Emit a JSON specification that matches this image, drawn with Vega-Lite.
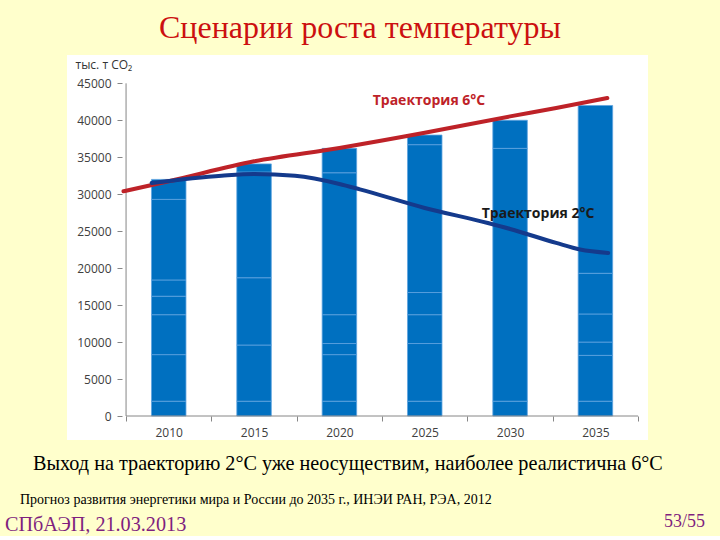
{
  "$schema": "https://vega.github.io/schema/vega-lite/v6.json",
  "background": "#FFFFCC",
  "padding": {"left": 0, "right": 0, "top": 12, "bottom": 0},
  "spacing": 0,
  "title": {"text": "Сценарии роста температуры", "font": "Liberation Serif", "fontSize": 32, "fontWeight": "normal", "color": "#CC1010", "anchor": "middle", "offset": 10},
  "config": {
    "view": {"stroke": null},
    "axis": {"labelFont": "Open Sans", "labelFontSize": 12, "labelColor": "#404040", "tickColor": "#868686", "domain": false, "grid": false}
  },
  "datasets": {
    "segments": [
      {"year": 2010, "from": 0, "to": 2000}, {"year": 2010, "from": 2000, "to": 8300}, {"year": 2010, "from": 8300, "to": 13700}, {"year": 2010, "from": 13700, "to": 16200}, {"year": 2010, "from": 16200, "to": 18400}, {"year": 2010, "from": 18400, "to": 29300}, {"year": 2010, "from": 29300, "to": 32000},
      {"year": 2015, "from": 0, "to": 2000}, {"year": 2015, "from": 2000, "to": 9600}, {"year": 2015, "from": 9600, "to": 18700}, {"year": 2015, "from": 18700, "to": 33000}, {"year": 2015, "from": 33000, "to": 34100},
      {"year": 2020, "from": 0, "to": 2000}, {"year": 2020, "from": 2000, "to": 8300}, {"year": 2020, "from": 8300, "to": 9800}, {"year": 2020, "from": 9800, "to": 13700}, {"year": 2020, "from": 13700, "to": 32900}, {"year": 2020, "from": 32900, "to": 36200},
      {"year": 2025, "from": 0, "to": 2000}, {"year": 2025, "from": 2000, "to": 9800}, {"year": 2025, "from": 9800, "to": 13700}, {"year": 2025, "from": 13700, "to": 16700}, {"year": 2025, "from": 16700, "to": 36700}, {"year": 2025, "from": 36700, "to": 38000},
      {"year": 2030, "from": 0, "to": 2000}, {"year": 2030, "from": 2000, "to": 36200}, {"year": 2030, "from": 36200, "to": 40000},
      {"year": 2035, "from": 0, "to": 2000}, {"year": 2035, "from": 2000, "to": 8200}, {"year": 2035, "from": 8200, "to": 10000}, {"year": 2035, "from": 10000, "to": 13800}, {"year": 2035, "from": 13800, "to": 19300}, {"year": 2035, "from": 19300, "to": 42000}
    ],
    "trajectories": [
      {"series": "6°C", "year": 2007.35, "value": 30400},
      {"series": "6°C", "year": 2010.0, "value": 31750},
      {"series": "6°C", "year": 2015.0, "value": 34450},
      {"series": "6°C", "year": 2020.0, "value": 36250},
      {"series": "6°C", "year": 2025.0, "value": 38300},
      {"series": "6°C", "year": 2030.0, "value": 40530},
      {"series": "6°C", "year": 2032.7, "value": 41650},
      {"series": "6°C", "year": 2035.7, "value": 43000},
      {"series": "2°C", "year": 2009.0, "value": 31520},
      {"series": "2°C", "year": 2013.1, "value": 32500},
      {"series": "2°C", "year": 2015.0, "value": 32730},
      {"series": "2°C", "year": 2017.4, "value": 32480},
      {"series": "2°C", "year": 2020.0, "value": 31380},
      {"series": "2°C", "year": 2021.2, "value": 30650},
      {"series": "2°C", "year": 2025.0, "value": 28140},
      {"series": "2°C", "year": 2028.7, "value": 26100},
      {"series": "2°C", "year": 2030.0, "value": 25300},
      {"series": "2°C", "year": 2032.7, "value": 23410},
      {"series": "2°C", "year": 2034.1, "value": 22520},
      {"series": "2°C", "year": 2035.75, "value": 22060}
    ],
    "labels": [
      {"series": "6°C", "label": "Траектория 6°C", "year": 2021.95, "value": 42600},
      {"series": "2°C", "label": "Траектория 2°C", "year": 2028.34, "value": 27280}
    ]
  },
  "vconcat": [
    {
      "hconcat": [
        {"width": 67, "height": 385, "data": {"values": []}, "mark": "text", "encoding": {}},
        {
          "width": 581,
          "height": 385,
          "view": {"fill": "white", "stroke": null},
          "layer": [
            {
              "data": {"name": "segments"},
              "mark": {"type": "bar", "width": 34.5, "color": "#0070C0", "stroke": "#5FA3E0", "strokeWidth": 0.8},
              "encoding": {
                "x": {"field": "year", "type": "quantitative",
                  "scale": {"domain": [2004.333, 2037.788], "nice": false, "zero": false},
                  "axis": {"values": [2007.5, 2010, 2012.5, 2015, 2017.5, 2020, 2022.5, 2025, 2027.5, 2030, 2032.5, 2035, 2037.5],
                    "labelExpr": "datum.value % 5 == 0 ? format(datum.value, 'd') : ''",
                    "tickOpacity": {"condition": {"test": "datum.value % 5 == 0", "value": 0}, "value": 1},
                    "tickSize": 5, "labelPadding": 6, "offset": -24, "title": null, "labelFlush": false, "labelOverlap": false}},
                "y": {"field": "from", "type": "quantitative",
                  "scale": {"domain": [-3246, 48828], "nice": false, "zero": false},
                  "axis": {"values": [0, 5000, 10000, 15000, 20000, 25000, 30000, 35000, 40000, 45000], "format": "d",
                    "tickSize": 5, "labelPadding": 6, "offset": -55, "labelFlush": false, "labelOverlap": false,
                    "title": "тыс. т CO₂", "titleAngle": 0, "titleAlign": "left", "titleBaseline": "middle",
                    "titleX": -47, "titleY": 9, "titleFont": "Open Sans", "titleFontSize": 12, "titleFontWeight": "normal", "titleColor": "#333333"}},
                "y2": {"field": "to"}
              }
            },
            {
              "data": {"values": [{}]},
              "mark": {"type": "rule", "color": "#868686", "strokeWidth": 1},
              "encoding": {"x": {"datum": 2007.5}, "y": {"datum": 0}, "y2": {"datum": 45000}}
            },
            {
              "data": {"values": [{}]},
              "mark": {"type": "rule", "color": "#868686", "strokeWidth": 1},
              "encoding": {"x": {"datum": 2007.5}, "x2": {"datum": 2037.5}, "y": {"datum": 0}}
            },
            {
              "data": {"name": "trajectories"},
              "mark": {"type": "line", "interpolate": "monotone", "strokeWidth": 4, "strokeCap": "round"},
              "encoding": {
                "x": {"field": "year", "type": "quantitative"},
                "y": {"field": "value", "type": "quantitative"},
                "detail": {"field": "series"},
                "color": {"field": "series", "type": "nominal", "scale": {"domain": ["6°C", "2°C"], "range": ["#BE2228", "#143A8C"]}, "legend": null}
              }
            },
            {
              "data": {"name": "labels"},
              "mark": {"type": "text", "align": "left", "baseline": "middle", "font": "Open Sans", "fontSize": 14, "fontWeight": "bold"},
              "encoding": {
                "x": {"field": "year", "type": "quantitative"},
                "y": {"field": "value", "type": "quantitative"},
                "text": {"field": "label"},
                "color": {"field": "series", "type": "nominal", "scale": {"domain": ["6°C", "2°C"], "range": ["#BE2228", "#1A1A1A"]}, "legend": null}
              }
            }
          ],
          "resolve": {"scale": {"color": "independent"}}
        }
      ],
      "spacing": 0
    },
    {
      "width": 720, "height": 14, "data": {"values": []}, "mark": "text", "encoding": {},
      "title": {"text": "Выход на траекторию 2°C уже неосуществим, наиболее реалистична 6°C", "orient": "bottom", "anchor": "start", "dx": 33, "offset": 0, "font": "Liberation Serif", "fontSize": 20.2, "fontWeight": "normal", "color": "#000000"}
    },
    {
      "width": 720, "height": 18, "data": {"values": []}, "mark": "text", "encoding": {},
      "title": {"text": "Прогноз развития энергетики мира и России до 2035 г., ИНЭИ РАН, РЭА, 2012", "orient": "bottom", "anchor": "start", "dx": 20, "offset": 0, "font": "Liberation Serif", "fontSize": 14, "fontWeight": "normal", "color": "#000000"}
    },
    {
      "hconcat": [
        {
          "width": 360, "height": 8, "data": {"values": []}, "mark": "text", "encoding": {},
          "title": {"text": "СПбАЭП, 21.03.2013", "orient": "bottom", "anchor": "start", "dx": 5, "offset": 0, "font": "Liberation Serif", "fontSize": 20.2, "fontWeight": "normal", "color": "#7F1F7F"}
        },
        {
          "width": 360, "height": 6, "data": {"values": []}, "mark": "text", "encoding": {},
          "title": {"text": "53/55", "orient": "bottom", "anchor": "end", "dx": -15, "offset": 0, "font": "Liberation Serif", "fontSize": 18, "fontWeight": "normal", "color": "#7F1F7F"}
        }
      ],
      "spacing": 0
    }
  ]
}
